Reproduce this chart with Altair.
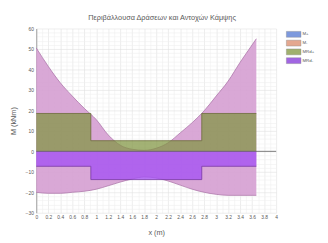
import altair as alt
import pandas as pd

# ---- data ----
x_pts = [0.0, 0.2, 0.4, 0.6, 0.8, 1.0, 1.2, 1.4, 1.6, 1.8, 2.0, 2.2, 2.4, 2.6, 2.8, 3.0, 3.2, 3.4, 3.6, 3.67]
m_top = [50.5, 41.5, 33.5, 27.0, 21.0, 15.5, 8.0, 3.0, 1.0, 0.5, 1.5, 4.2, 9.0, 14.0, 19.8, 27.0, 34.3, 43.5, 52.0, 55.0]
m_bot = [-20.0, -20.5, -20.5, -20.0, -19.5, -18.5, -16.8, -15.0, -13.5, -12.5, -13.0, -14.5, -16.5, -18.5, -20.0, -21.0, -21.5, -21.5, -21.5, -21.5]

x_steps = [0.0, 0.91, 2.76, 3.67]
mrd_pos = [18.5, 5.2, 18.5, 18.5]
mrd_neg = [-7.3, -13.8, -7.3, -7.3]

series = ["M+", "M-", "MRd+", "MRd-"]
legend_colors = ["#7d99dd", "#e4a890", "#a0b06e", "#a166e2"]

x_ticks = [round(i * 0.1, 1) for i in range(41)]
y_ticks = list(range(-30, 61, 2))

title_text = "Περιβάλλουσα Δράσεων και Αντοχών Κάμψης"

curves = pd.DataFrame({"x": x_pts, "top": m_top, "bot": m_bot})
steps = pd.DataFrame({"x": x_steps, "pos": mrd_pos, "neg": mrd_neg})
leg = pd.DataFrame({"series": series})

FONT = "Liberation Sans"
xscale = alt.Scale(domain=[0, 4], nice=False, zero=False)
yscale = alt.Scale(domain=[-30, 60], nice=False)

xaxis = alt.Axis(
    values=x_ticks, tickCount=200,
    labelExpr="round(datum.value*10) % 2 === 0 ? format(datum.value, '~g') : ''",
    labelOverlap=False, labelFontSize=5, labelColor="#595959", labelPadding=2,
    labelFont=FONT, ticks=False, domain=False, labelFlush=False,
    gridColor={"condition": {"test": "round(datum.value*10) % 2 === 0", "value": "#e0e0e0"}, "value": "#f0f0f0"},
    gridWidth=0.6,
    title="x (m)", titleFontSize=7.5, titleFont=FONT, titleColor="#595959",
    titleFontWeight="normal", titlePadding=9,
)
yaxis = alt.Axis(
    values=y_ticks, tickCount=200,
    labelExpr="datum.value % 10 === 0 ? format(datum.value, 'd') : ''",
    labelOverlap=False, labelFontSize=5, labelColor="#595959", labelPadding=3,
    labelFont=FONT, ticks=False, domain=True, domainColor="#8a8a8a", domainWidth=0.8,
    labelFlush=False,
    gridColor={"condition": {"test": "datum.value % 10 === 0", "value": "#e0e0e0"}, "value": "#f0f0f0"},
    gridWidth=0.6,
    title="M (kNm)", titleFontSize=7.5, titleFont=FONT, titleColor="#595959",
    titleFontWeight="normal", titlePadding=8,
)

env = alt.Chart(curves).mark_area(color="#d59ed2", opacity=0.9, interpolate="monotone").encode(
    x=alt.X("x:Q", scale=xscale, axis=xaxis),
    y=alt.Y("top:Q", scale=yscale, axis=yaxis),
    y2="bot:Q",
)
top_line = alt.Chart(curves).mark_line(color="#ad76aa", strokeWidth=0.8, interpolate="monotone").encode(
    x="x:Q", y="top:Q")
bot_line = alt.Chart(curves).mark_line(color="#ad76aa", strokeWidth=0.8, interpolate="monotone").encode(
    x="x:Q", y="bot:Q")

green = alt.Chart(steps).mark_area(color="#7f9440", opacity=0.72, interpolate="step-after").encode(
    x="x:Q", y="pos:Q", y2=alt.datum(0))
green_line = alt.Chart(steps).mark_line(color="#6a6b38", strokeWidth=0.8, interpolate="step-after").encode(
    x="x:Q", y="pos:Q")

purple = alt.Chart(steps).mark_area(color="#a552f2", opacity=0.8, interpolate="step-after").encode(
    x="x:Q", y="neg:Q", y2=alt.datum(0))
purple_line = alt.Chart(steps).mark_line(color="#7636a4", strokeWidth=0.8, interpolate="step-after").encode(
    x="x:Q", y="neg:Q")

zero_rule = alt.Chart(steps.head(1)).mark_rule(color="#5a5a5a", strokeWidth=0.8).encode(y=alt.datum(0))

legend_layer = alt.Chart(leg).mark_point(filled=True, size=0, opacity=0).encode(
    x=alt.datum(0), y=alt.datum(0),
    color=alt.Color(
        "series:N",
        scale=alt.Scale(domain=series, range=legend_colors),
        sort=series,
        legend=alt.Legend(
            title=None, orient="none", legendX=256, legendY=1,
            symbolType="M-1,-0.667H2.333V0.667H-1Z", symbolSize=81,
            symbolOpacity=1, symbolStrokeColor="#8a8a8a", symbolStrokeWidth=0.4,
            labelFontSize=4.5, labelColor="#595959", labelFont=FONT, labelOffset=7,
            rowPadding=0, padding=0,
        ),
    ),
)

chart = alt.layer(
    env, top_line, bot_line, green, green_line, purple, purple_line, zero_rule, legend_layer
).properties(
    width=246, height=189,
    title=alt.Title(title_text, fontSize=7.5, font=FONT, color="#595959", fontWeight="normal",
                    anchor="middle", offset=5, dx=6),
    autosize=alt.AutoSizeParams(type="none"),
    padding={"left": 29, "top": 18, "right": 45, "bottom": 28},
    background="white",
).configure_view(stroke=None)

chart.save("out.html", embed_options={"renderer": "svg", "actions": False})
